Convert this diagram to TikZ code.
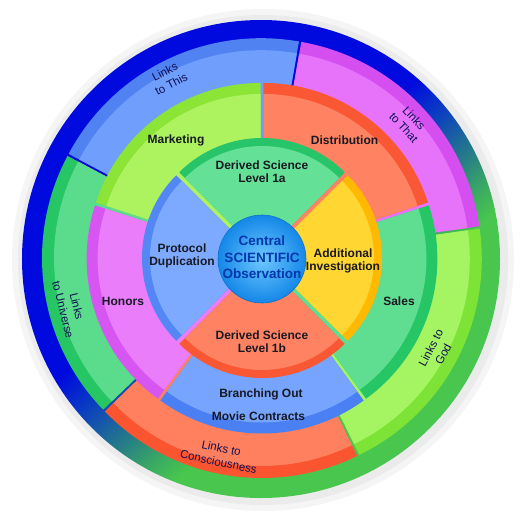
\documentclass[tikz,border=0pt]{standalone}
\usepackage{fontspec}
\setmainfont{Liberation Sans}
\usepackage{tikz}
\usetikzlibrary{positioning}

\definecolor{ringblue}{RGB}{0,10,222}
\definecolor{ringmid}{RGB}{10,60,195}
\definecolor{ringteal}{RGB}{40,130,130}
\definecolor{ringlime}{RGB}{58,168,100}
\definecolor{ringgreen}{RGB}{72,198,78}
\pgfdeclareverticalshading{rimshade}{100bp}{color(0bp)=(ringgreen); color(38bp)=(ringgreen); color(41bp)=(ringlime); color(44bp)=(ringteal); color(50bp)=(ringmid); color(54bp)=(ringblue); color(100bp)=(ringblue)}

% outer ring
\definecolor{thisR}{RGB}{80,130,242}   \definecolor{thisB}{RGB}{112,158,252}
\definecolor{thatR}{RGB}{212,78,240}   \definecolor{thatB}{RGB}{230,115,250}
\definecolor{godR}{RGB}{125,228,55}    \definecolor{godB}{RGB}{165,245,98}
\definecolor{consR}{RGB}{250,85,48}    \definecolor{consB}{RGB}{255,128,95}
\definecolor{univR}{RGB}{38,198,100}   \definecolor{univB}{RGB}{90,220,140}
% middle ring
\definecolor{distR}{RGB}{250,88,52}    \definecolor{distB}{RGB}{255,130,98}
\definecolor{markR}{RGB}{140,228,55}   \definecolor{markB}{RGB}{172,243,95}
\definecolor{honR}{RGB}{215,85,240}    \definecolor{honB}{RGB}{234,125,250}
\definecolor{branR}{RGB}{75,128,245}   \definecolor{branB}{RGB}{118,164,255}
\definecolor{saleR}{RGB}{38,198,102}   \definecolor{saleB}{RGB}{95,222,145}
% inner ring
\definecolor{lvaR}{RGB}{40,196,105}    \definecolor{lvaB}{RGB}{100,225,150}
\definecolor{addR}{RGB}{255,185,0}     \definecolor{addB}{RGB}{255,214,50}
\definecolor{lvbR}{RGB}{250,88,52}     \definecolor{lvbB}{RGB}{255,130,98}
\definecolor{protR}{RGB}{82,135,245}   \definecolor{protB}{RGB}{125,170,255}
% core and text
\definecolor{coreout}{RGB}{20,135,232}
\definecolor{corein}{RGB}{110,200,255}
\definecolor{coretext}{RGB}{0,55,170}
\definecolor{labeltext}{RGB}{25,25,35}
\definecolor{navytext}{RGB}{15,15,80}

\tikzset{
  inlabel/.style={font=\fontsize{12}{13}\selectfont\bfseries, text=labeltext, align=center, inner sep=0pt},
  outlabel/.style={font=\fontsize{11.5}{14}\selectfont, text=navytext, align=center, inner sep=0pt},
  corelabel/.style={font=\fontsize{13.5}{16.5}\selectfont\bfseries, text=coretext, align=center, inner sep=0pt}
}

\begin{document}
\begin{tikzpicture}[x=1pt,y=1pt]
	\useasboundingbox (-262,-259) rectangle (262,258);

	% glow and outer band
	\fill[black!4] (1,-2) circle (251);
	\fill[black!8] (1,-2) circle (245);
	\shade[shading=rimshade, shading angle=40] (-1,-1) circle (239);

	% outer ring of links
	\foreach \s/\r/\b in {8/thatR/thatB, 80/thisR/thisB, 152/univR/univB, 224/consR/consB, 296/godR/godB} {
		\pgfmathsetmacro{\e}{\s+72}
		\pgfmathsetmacro{\m}{\s+36}
		\begin{scope}[shift={(\m:2)}]
			\fill[\r] (0,0) -- (\s:218) arc[start angle=\s, end angle=\e, radius=218] -- cycle;
			\fill[\b] (0,0) -- (\s:206) arc[start angle=\s, end angle=\e, radius=206] -- cycle;
		\end{scope}
	}

	% middle ring
	\foreach \s/\r/\b in {18/distR/distB, 90/markR/markB, 162/honR/honB, 234/branR/branB, 306/saleR/saleB} {
		\pgfmathsetmacro{\e}{\s+72}
		\pgfmathsetmacro{\m}{\s+36}
		\begin{scope}[shift={(\m:2.5)}]
			\fill[\r] (0,0) -- (\s:173) arc[start angle=\s, end angle=\e, radius=173] -- cycle;
			\fill[\b] (0,0) -- (\s:162) arc[start angle=\s, end angle=\e, radius=162] -- cycle;
		\end{scope}
	}

	% inner ring
	\foreach \s/\r/\b in {45/lvaR/lvaB, 135/protR/protB, 225/lvbR/lvbB, 315/addR/addB} {
		\pgfmathsetmacro{\e}{\s+90}
		\pgfmathsetmacro{\m}{\s+45}
		\begin{scope}[shift={(\m:3)}]
			\fill[\r] (0,0) -- (\s:117) arc[start angle=\s, end angle=\e, radius=117] -- cycle;
			\fill[\b] (0,0) -- (\s:109) arc[start angle=\s, end angle=\e, radius=109] -- cycle;
		\end{scope}
	}

	% core
	\shade[inner color=corein, outer color=coreout] (0,-1) circle (44);
	\draw[coreout!85!black, line width=0.6pt] (0,-1) circle (44);
	\node[corelabel] (core) at (0,0.5) {Central\\SCIENTIFIC\\Observation};

	% inner labels
	\node[inlabel] (lva) at (0,86.5) {Derived Science\\Level 1a};
	\node[inlabel] (prot) at (-80,2.5) {Protocol\\Duplication};
	\node[inlabel] (add) at (81,-2.5) {Additional\\Investigation};
	\node[inlabel] (lvb) at (0,-83.5) {Derived Science\\Level 1b};

	% middle labels
	\node[inlabel] (mark) at (-86,118) {Marketing};
	\node[inlabel] (dist) at (82.5,118) {Distribution};
	\node[inlabel] (sale) at (137,-43) {Sales};
	\node[inlabel] (hon) at (-139,-43) {Honors};
	\node[inlabel] (bran) at (-1,-136) {Branching Out};
	\node[inlabel] (movie) at (-3.5,-158) {Movie Contracts};

	% outer labels
	\node[outlabel, rotate=27] (this) at (-94,180) {Links\\to This};
	\node[outlabel, rotate=-47] (that) at (147,135) {Links\\to That};
	\node[outlabel, rotate=62] (god) at (175,-93) {Links to\\God};
	\node[outlabel, rotate=-12] (cons) at (-42,-197) {Links to\\Consciousness};
	\node[outlabel, rotate=-76] (univ) at (-192,-50) {Links\\to Universe};
\end{tikzpicture}
\end{document}
